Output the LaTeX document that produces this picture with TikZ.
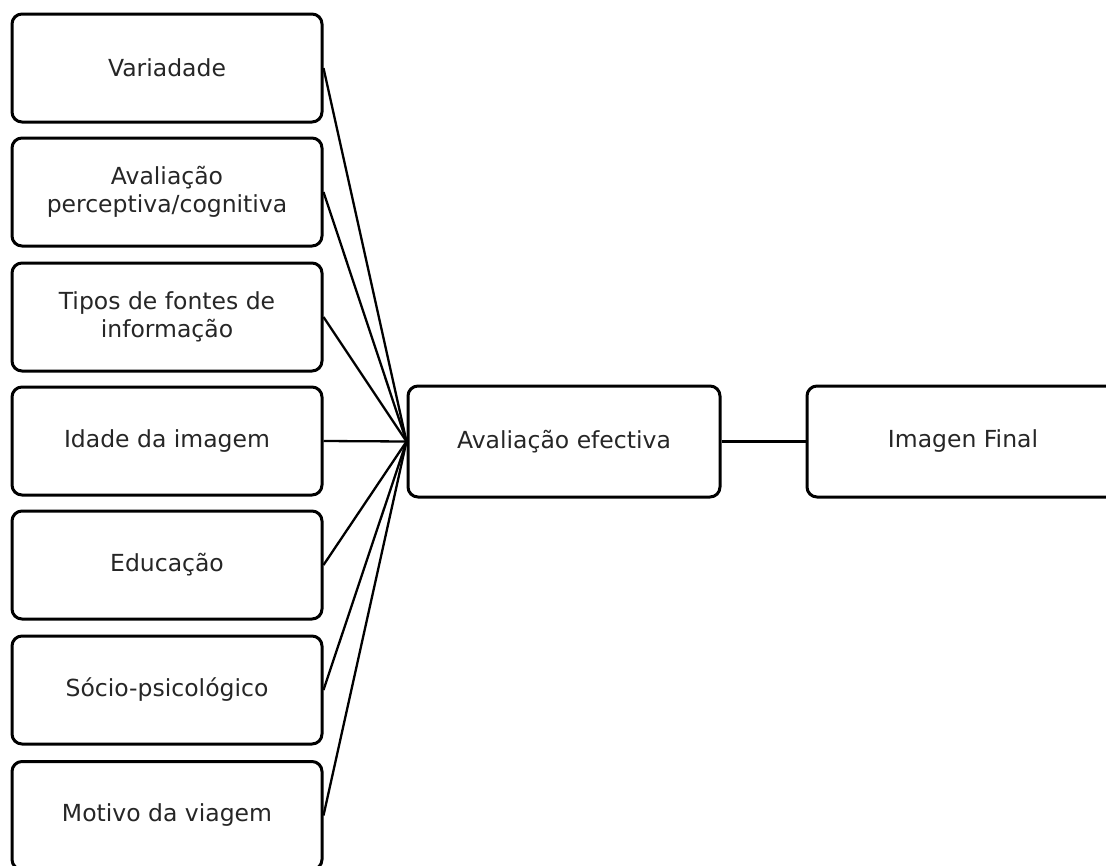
\documentclass[tikz,border=0pt]{standalone}
\usepackage{fontspec}
\setmainfont{DejaVu Sans}
\begin{document}
\begin{tikzpicture}[x=1pt,y=-1pt,
  box/.style={draw=black, line width=3pt, rounded corners=10pt, minimum width=310pt, minimum height=108pt, inner sep=0pt, align=center, text=black!85, font=\fontsize{23.5}{28.5}\selectfont},
  link/.style={draw=black, line width=2.3pt}]
\useasboundingbox (0,0) rectangle (1106,865);
\node[box] (v)  at (167,68)  {Variadade};
\node[box] (ap) at (167,192) {Avaliação\\perceptiva/cognitiva};
\node[box] (tf) at (167,317) {Tipos de fontes de\\informação};
\node[box] (id) at (167,441) {Idade da imagem};
\node[box] (ed) at (167,565) {Educação};
\node[box] (sp) at (167,690) {Sócio-psicológico};
\node[box] (mv) at (167,815.5) {Motivo da viagem};
\node[box, minimum width=312pt, minimum height=111pt] (ae) at (564,441.5) {Avaliação efectiva};
\node[box, minimum width=312pt, minimum height=111pt] (if) at (963,441.5) {Imagen Final};
\foreach \n in {v,ap,tf,id,ed,sp,mv} \draw[link] (\n.east) -- (ae.west);
\draw[link] (ae.east) -- (if.west);
\end{tikzpicture}
\end{document}
